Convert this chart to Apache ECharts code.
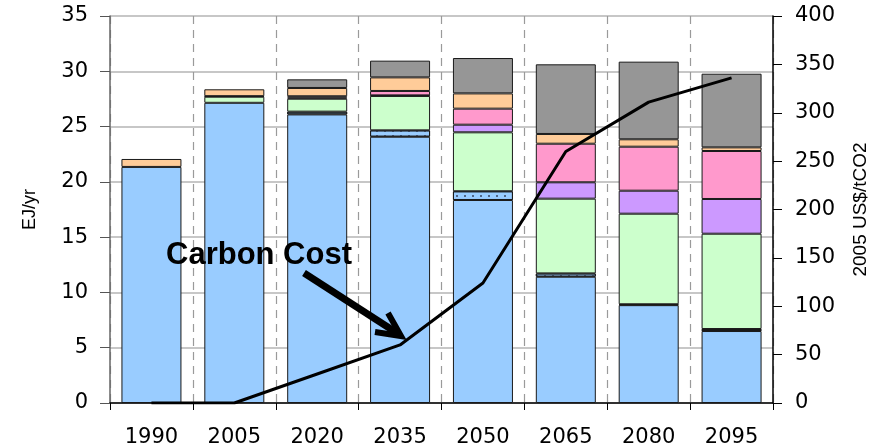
<!DOCTYPE html>
<html>
<head>
<meta charset="utf-8">
<script src="https://cdn.jsdelivr.net/npm/echarts@6/dist/echarts.min.js"></script>
<style>html,body{margin:0;padding:0;background:#fff;}#chart{width:869px;height:444px;}</style>
</head>
<body>
<div id="chart"></div>
<script>
const categories = ['1990', '2005', '2020', '2035', '2050', '2065', '2080', '2095'];
const blueSeries   = [21.35, 27.15, 26.10, 24.08, 18.36, 11.42, 8.85, 6.51];
const dottedSeries = [0, 0, 0.25, 0.58, 0.79, 0.30, 0.08, 0.18];
const greenSeries  = [0, 0.55, 1.17, 3.11, 5.33, 6.76, 8.19, 8.62];
const purpleSeries = [0, 0, 0.10, 0.05, 0.69, 1.48, 2.08, 3.14];
const pinkSeries   = [0, 0.05, 0.12, 0.40, 1.45, 3.49, 3.98, 4.34];
const peachSeries  = [0.72, 0.62, 0.75, 1.23, 1.38, 0.88, 0.67, 0.33];
const graySeries   = [0, 0, 0.78, 1.51, 3.20, 6.30, 7.02, 6.66];
const carbonCost   = [0, 0, 30, 60, 124, 260, 311, 336];
const leftTicks = {min: 0, max: 35, interval: 5};
const rightTicks = {min: 0, max: 400, interval: 50};

const layers = [
  {name: 'Layer 1', data: blueSeries, color: '#99CCFF'},
  {name: 'Layer 2', data: dottedSeries, color: '#99CCFF', decal: true},
  {name: 'Layer 3', data: greenSeries, color: '#CCFFCC'},
  {name: 'Layer 4', data: purpleSeries, color: '#CC99FF'},
  {name: 'Layer 5', data: pinkSeries, color: '#FF99CC'},
  {name: 'Layer 6', data: peachSeries, color: '#FFCC99'},
  {name: 'Layer 7', data: graySeries, color: '#969696'}
];

const barSeries = layers.map(l => {
  const s = {
    name: l.name,
    type: 'bar',
    stack: 'energy',
    barWidth: 60,
    data: l.data.map(v => v === 0 ? null : v),
    itemStyle: {color: l.color, borderColor: '#1a1a1a', borderWidth: 1}
  };
  if (l.decal) {
    s.itemStyle.decal = {symbol: 'circle', symbolSize: 1, dashArrayX: [2, 6], dashArrayY: [2, 3], color: '#3a4560'};
  }
  return s;
});

const chart = echarts.init(document.getElementById('chart'), null, {renderer: 'canvas'});
chart.setOption({
  animation: false,
  backgroundColor: '#fff',
  grid: {left: 110, right: 96, top: 16, bottom: 41, containLabel: false, outerBoundsMode: 'none'},
  xAxis: {
    type: 'category',
    data: categories,
    boundaryGap: true,
    axisLine: {lineStyle: {color: '#000', width: 1.5}},
    axisTick: {show: true, length: 7, lineStyle: {color: '#000'}},
    axisLabel: {margin: 24, color: '#000', fontFamily: 'DejaVu Sans', fontSize: 21},
    splitLine: {show: true, lineStyle: {color: '#9a9a9a', type: [8, 6], width: 1.2}}
  },
  yAxis: [
    {
      type: 'value', min: leftTicks.min, max: leftTicks.max, interval: leftTicks.interval,
      name: 'EJ/yr', nameLocation: 'middle', nameGap: 71, nameRotate: 90,
      nameTextStyle: {color: '#000', fontFamily: 'Liberation Sans', fontSize: 18},
      axisLine: {show: true, lineStyle: {color: '#666', width: 1.5}},
      axisTick: {show: true, length: 10, lineStyle: {color: '#555'}},
      axisLabel: {margin: 22, color: '#000', fontFamily: 'DejaVu Sans', fontSize: 21},
      splitLine: {show: true, lineStyle: {color: '#b4b4b4', width: 1.5}}
    },
    {
      type: 'value', min: rightTicks.min, max: rightTicks.max, interval: rightTicks.interval,
      position: 'right',
      name: '2005 US$/tCO2', nameLocation: 'middle', nameGap: 78, nameRotate: 90,
      nameTextStyle: {color: '#000', fontFamily: 'Liberation Sans', fontSize: 19},
      axisLine: {show: true, lineStyle: {color: '#000', width: 1.5}},
      axisTick: {show: true, length: 9, lineStyle: {color: '#000'}},
      axisLabel: {margin: 22, color: '#000', fontFamily: 'DejaVu Sans', fontSize: 21},
      splitLine: {show: false}
    }
  ],
  series: barSeries.concat([{
    name: 'Carbon Cost',
    type: 'line',
    yAxisIndex: 1,
    data: carbonCost,
    symbol: 'none',
    z: 10,
    lineStyle: {color: '#000', width: 3}
  }]),
  graphic: [
    {type: 'text', left: 166, top: 240, z: 100,
     style: {text: 'Carbon Cost', fill: '#000', font: 'bold 31px "Liberation Sans", Arial, sans-serif'}},
    {type: 'line', z: 100, shape: {x1: 304, y1: 273, x2: 397, y2: 333},
     style: {stroke: '#000', lineWidth: 7}},
    {type: 'polyline', z: 100, shape: {points: [[375, 332], [401, 336], [388, 313]]},
     style: {stroke: '#000', lineWidth: 6, fill: null, lineJoin: 'miter'}}
  ]
});
</script>
</body>
</html>
